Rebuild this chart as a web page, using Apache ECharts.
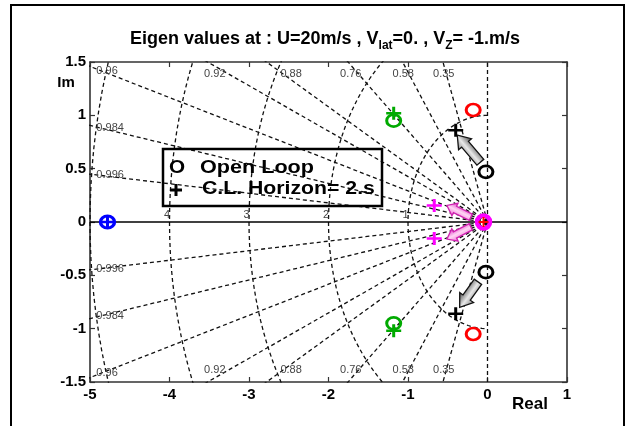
<!DOCTYPE html>
<html>
<head>
<meta charset="utf-8">
<script src="https://cdn.jsdelivr.net/npm/echarts@6/dist/echarts.min.js"></script>
<style>
  html, body { margin: 0; padding: 0; background: #fff; }
  #chart { width: 626px; height: 426px; }
</style>
</head>
<body>
<div id="chart"></div>
<script>
// Eigenvalues in the upper half-plane (conjugates are mirrored below the real axis)
const modeColors   = ['#0000ff', '#00aa00', '#ff0000', '#000000', '#ff00ff'];
const openLoopRe   = [-4.78, -1.18, -0.18, -0.02, -0.05];
const openLoopIm   = [0, 0.95, 1.05, 0.47, 0];
const closedLoopRe = [-4.78, -1.18, -0.05, -0.40, -0.67];
const closedLoopIm = [0, 1.02, 0, 0.86, 0.155];

// s-plane grid: damping ratios and natural frequencies
const dampingRatios = [0.35, 0.58, 0.76, 0.88, 0.92, 0.96, 0.984, 0.996];
const naturalFreqs  = [1, 2, 3, 4, 5];
const freqLabels    = ['1', '2', '3', '4'];

// Axis ranges / ticks
const xTicks = [-5, -4, -3, -2, -1, 0, 1];
const yTicks = [-1.5, -1, -0.5, 0, 0.5, 1, 1.5];

// Arrows showing how the eigenvalues move when the loop is closed
const arrowTailRe = [-0.09, -0.12, -0.21, -0.21];
const arrowTailIm = [0.56, -0.56, 0.045, -0.045];
const arrowTipRe  = [-0.38, -0.35, -0.51, -0.51];
const arrowTipIm  = [0.815, -0.80, 0.155, -0.16];
const arrowKinds  = [0, 0, 1, 1]; // 0 = grey, 1 = pink

const FONT = 'Liberation Sans, Arial, Helvetica, sans-serif';

const chart = echarts.init(document.getElementById('chart'), null, { renderer: 'canvas' });

// ---- s-plane grid lines ----
const gridLine = { color: '#111', width: 1.3, type: [4, 3] };
const gridSeries = [];
dampingRatios.forEach(z => {
  const r = 8;
  const re = -r * z, im = r * Math.sqrt(1 - z * z);
  [1, -1].forEach(sg => {
    gridSeries.push({
      type: 'line', data: [[0, 0], [re, sg * im]], symbol: 'none', silent: true,
      lineStyle: gridLine, z: 1, animation: false
    });
  });
});
naturalFreqs.forEach(wn => {
  const pts = [];
  for (let a = 90; a <= 270; a += 2) {
    const t = a * Math.PI / 180;
    pts.push([wn * Math.cos(t), wn * Math.sin(t)]);
  }
  gridSeries.push({
    type: 'line', data: pts, symbol: 'none', silent: true, smooth: false,
    lineStyle: gridLine, z: 1, animation: false
  });
});
// imaginary axis (zero damping)
gridSeries.push({
  type: 'line', data: [[0, -1.5], [0, 1.5]], symbol: 'none', silent: true,
  lineStyle: gridLine, z: 1, animation: false
});
// real axis
gridSeries.push({
  type: 'line', data: [[-5, 0], [1, 0]], symbol: 'none', silent: true,
  lineStyle: { color: '#000', width: 1.5 }, z: 2, animation: false
});

// ---- grid labels ----
const zetaLabelAt = {
  0.996: [-4.92, 0.44, 'left'], 0.984: [-4.92, 0.88, 'left'], 0.96: [-4.92, 1.42, 'left'],
  0.92: [-3.43, 1.39, 'center'], 0.88: [-2.47, 1.39, 'center'], 0.76: [-1.72, 1.39, 'center'],
  0.58: [-1.06, 1.39, 'center'], 0.35: [-0.55, 1.39, 'center']
};
const gridLabelData = [];
const gridLabelText = [];
const gridLabelAlign = [];
dampingRatios.forEach(z => {
  const spot = zetaLabelAt[z];
  [1, -1].forEach(sg => {
    gridLabelData.push([spot[0], sg * spot[1], gridLabelText.length]);
    gridLabelText.push(String(z));
    gridLabelAlign.push(spot[2]);
  });
});
freqLabels.forEach(lbl => {
  gridLabelData.push([-Number(lbl) - 0.03, 0.065, gridLabelText.length]);
  gridLabelText.push(lbl);
  gridLabelAlign.push('center');
});

const labelSeries = {
  type: 'custom', silent: true, animation: false, z: 3, clip: false,
  data: gridLabelData,
  renderItem(params, api) {
    const p = api.coord([api.value(0), api.value(1)]);
    const i = api.value(2);
    return {
      type: 'text', x: p[0], y: p[1],
      style: {
        text: gridLabelText[i], fill: '#444', fontSize: 11, fontFamily: FONT,
        align: gridLabelAlign[i], verticalAlign: 'middle'
      }
    };
  }
};

// ---- arrows ----
const arrowData = arrowTailRe.map((_, i) =>
  [arrowTailRe[i], arrowTailIm[i], arrowTipRe[i], arrowTipIm[i], arrowKinds[i]]);
const arrowSeries = {
  type: 'custom', silent: true, animation: false, z: 4, clip: false,
  data: arrowData,
  renderItem(params, api) {
    const p0 = api.coord([api.value(0), api.value(1)]);
    const p1 = api.coord([api.value(2), api.value(3)]);
    const kind = api.value(4);
    const dx = p1[0] - p0[0], dy = p1[1] - p0[1];
    const len = Math.hypot(dx, dy);
    const ux = dx / len, uy = dy / len, nx = -uy, ny = ux;
    const bw = kind === 0 ? 4.5 : 3.5, hw = kind === 0 ? 8.5 : 7, hl = kind === 0 ? 12 : 9;
    const bx = p1[0] - ux * hl, by = p1[1] - uy * hl;
    const pts = [
      [p0[0] + nx * bw, p0[1] + ny * bw],
      [bx + nx * bw, by + ny * bw],
      [bx + nx * hw, by + ny * hw],
      [p1[0], p1[1]],
      [bx - nx * hw, by - ny * hw],
      [bx - nx * bw, by - ny * bw],
      [p0[0] - nx * bw, p0[1] - ny * bw]
    ];
    const stops = kind === 0
      ? [{ offset: 0, color: '#4a4a4a' }, { offset: 0.55, color: '#e8e8e8' }, { offset: 1, color: '#8a8a8a' }]
      : [{ offset: 0, color: '#e040c8' }, { offset: 0.5, color: '#ffd6f4' }, { offset: 1, color: '#f070d8' }];
    const mx = (p0[0] + p1[0]) / 2, my = (p0[1] + p1[1]) / 2;
    const fill = new echarts.graphic.LinearGradient(
      mx + nx * hw, my + ny * hw, mx - nx * hw, my - ny * hw, stops, true);
    return {
      type: 'polygon', shape: { points: pts },
      style: { fill: fill, stroke: kind === 0 ? '#111' : '#d020b0', lineWidth: 1.3 }
    };
  }
};

// ---- eigenvalue markers ----
const plusPath = 'path://M4,0H6V4H10V6H6V10H4V6H0V4H4Z';
const olData = [], clData = [];
modeColors.forEach((c, i) => {
  const ims = openLoopIm[i] === 0 ? [0] : [openLoopIm[i], -openLoopIm[i]];
  ims.forEach(im => olData.push({
    value: [openLoopRe[i], im],
    itemStyle: {
      color: 'rgba(0,0,0,0)', opacity: 1, borderColor: c,
      borderWidth: i === 4 ? 4.5 : (i === 0 ? 3.2 : 2.8)
    },
    symbolSize: i === 4 ? [13, 13] : [14, 12]
  }));
  const cims = closedLoopIm[i] === 0 ? [0] : [closedLoopIm[i], -closedLoopIm[i]];
  const clColor = i === 2 ? '#ff0000' : c;
  cims.forEach(im => clData.push({
    value: [closedLoopRe[i], im],
    itemStyle: { color: clColor, opacity: 1 },
    symbolSize: i === 2 ? [10, 10] : [15, 13]
  }));
});

const option = {
  animation: false,
  backgroundColor: '#fff',
  grid: { left: 90, right: 59, top: 62, bottom: 44, containLabel: false },
  xAxis: [
    {
      type: 'value', min: -5, max: 1, interval: 1, position: 'bottom',
      axisLine: { onZero: false, lineStyle: { color: '#333', width: 1.6 } },
      axisTick: { inside: true, length: 5, lineStyle: { color: '#333', width: 1.2 } },
      axisLabel: {
        margin: 5, color: '#000', fontSize: 15, fontWeight: 'bold', fontFamily: FONT,
        formatter: v => xTicks.includes(v) ? String(v) : ''
      },
      splitLine: { show: false }
    },
    {
      type: 'value', min: -5, max: 1, interval: 1, position: 'top',
      axisLine: { onZero: false, lineStyle: { color: '#333', width: 1.6 } },
      axisTick: { inside: true, length: 5, lineStyle: { color: '#333', width: 1.2 } },
      axisLabel: { show: false }, splitLine: { show: false }
    }
  ],
  yAxis: [
    {
      type: 'value', min: -1.5, max: 1.5, interval: 0.5, position: 'left',
      axisLine: { onZero: false, lineStyle: { color: '#333', width: 1.6 } },
      axisTick: { inside: true, length: 5, lineStyle: { color: '#333', width: 1.2 } },
      axisLabel: {
        margin: 4, color: '#000', fontSize: 15, fontWeight: 'bold', fontFamily: FONT,
        formatter: v => yTicks.includes(v) ? String(v) : ''
      },
      splitLine: { show: false }
    },
    {
      type: 'value', min: -1.5, max: 1.5, interval: 0.5, position: 'right',
      axisLine: { onZero: false, lineStyle: { color: '#333', width: 1.6 } },
      axisTick: { inside: true, length: 5, lineStyle: { color: '#333', width: 1.2 } },
      axisLabel: { show: false }, splitLine: { show: false }
    }
  ],
  series: [
    ...gridSeries,
    labelSeries,
    arrowSeries,
    {
      name: 'Open Loop', type: 'scatter', symbol: 'circle', data: olData,
      itemStyle: { opacity: 1 }, z: 5, silent: true, animation: false
    },
    {
      name: 'C.L. Horizon= 2.s', type: 'scatter', symbol: plusPath, data: clData,
      itemStyle: { opacity: 1 }, z: 6, silent: true, animation: false
    }
  ],
  graphic: [
    // figure frame
    {
      type: 'rect', silent: true, z: 100,
      shape: { x: 11, y: 5, width: 613, height: 440 },
      style: { fill: 'none', stroke: '#000', lineWidth: 2 }
    },
    // title
    {
      type: 'text', x: 325, y: 30, silent: true, z: 100,
      style: {
        text: '{t|Eigen values at : U=20m/s , V}{s|lat}{t|=0. , V}{s|Z}{t|= -1.m/s}',
        align: 'center', verticalAlign: 'top',
        rich: {
          t: { fontSize: 18, fontWeight: 'bold', fontFamily: FONT, fill: '#000', lineHeight: 22, verticalAlign: 'top' },
          s: { fontSize: 12, fontWeight: 'bold', fontFamily: FONT, fill: '#000', lineHeight: 13, verticalAlign: 'bottom' }
        }
      }
    },
    // axis names
    {
      type: 'text', x: 66, y: 83, silent: true, z: 100,
      style: { text: 'Im', fontSize: 15, fontWeight: 'bold', fontFamily: FONT, fill: '#000', align: 'center', verticalAlign: 'middle' }
    },
    {
      type: 'text', x: 530, y: 404, silent: true, z: 100,
      style: { text: 'Real', fontSize: 17, fontWeight: 'bold', fontFamily: FONT, fill: '#000', align: 'center', verticalAlign: 'middle' }
    },
    // legend box
    {
      type: 'rect', silent: true, z: 100,
      shape: { x: 163, y: 149, width: 219, height: 57 },
      style: { fill: 'none', stroke: '#000', lineWidth: 2.5 }
    },
    {
      type: 'text', x: 169, y: 168, silent: true, z: 100, scaleX: 1.15,
      style: { text: 'O', fontSize: 18, fontWeight: 'bold', fontFamily: FONT, fill: '#000', align: 'left', verticalAlign: 'middle' }
    },
    {
      type: 'text', x: 200, y: 168, silent: true, z: 100, scaleX: 1.2,
      style: { text: 'Open Loop', fontSize: 18, fontWeight: 'bold', fontFamily: FONT, fill: '#000', align: 'left', verticalAlign: 'middle' }
    },
    {
      type: 'rect', silent: true, z: 100,
      shape: { x: 170, y: 188.5, width: 12, height: 3 }, style: { fill: '#000' }
    },
    {
      type: 'rect', silent: true, z: 100,
      shape: { x: 174.5, y: 184, width: 3, height: 12 }, style: { fill: '#000' }
    },
    {
      type: 'text', x: 202, y: 189, silent: true, z: 100, scaleX: 1.18,
      style: { text: 'C.L. Horizon= 2.s', fontSize: 18, fontWeight: 'bold', fontFamily: FONT, fill: '#000', align: 'left', verticalAlign: 'middle' }
    }
  ]
};

chart.setOption(option);
</script>
</body>
</html>
